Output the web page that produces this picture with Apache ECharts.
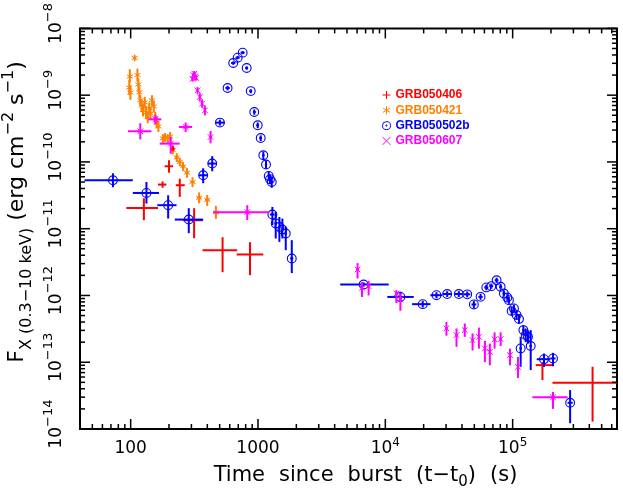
<!DOCTYPE html>
<html><head><meta charset="utf-8">
<script src="https://cdn.jsdelivr.net/npm/echarts@6/dist/echarts.min.js"></script>
<style>html,body{margin:0;padding:0;background:#fff}#c{width:623px;height:493px}</style>
</head><body><div id="c"></div>
<script>
// Each row: [t, tLow, tHigh, flux, fluxLow, fluxHigh]
const names = ['GRB050406', 'GRB050421', 'GRB050502b', 'GRB050607'];
const colors = ['#ff0000', '#ff8000', '#0000ff', '#ff00ff'];

const grb050406 = [
  [127, 92.5, 164, 2.05e-11, 1.34e-11, 2.86e-11],
  [178, 164, 191, 4.58e-11, 4.1e-11, 5.1e-11],
  [200, 185, 215, 8.61e-11, 6.9e-11, 1.06e-10],
  [215, 208, 222, 1.58e-10, 1.45e-10, 1.72e-10],
  [243, 226, 266, 4.48e-11, 3.0e-11, 5.6e-11],
  [315, 257, 369, 1.34e-11, 7.2e-12, 2.03e-11],
  [527, 367, 687, 4.77e-12, 2.23e-12, 7.46e-12],
  [865, 680, 1101, 4.11e-12, 2.01e-12, 6.28e-12],
  [171400, 151700, 205400, 9.06e-14, 5.4e-14, 1.0e-13],
  [424300, 205400, 776000, 4.92e-14, 1.29e-14, 8.55e-14]
];

const grb050421 = [
  [97.5, 96, 99, 1.3e-9, 1.0e-9, 1.7e-9],
  [98.5, 97, 100, 1.9e-9, 1.55e-9, 2.45e-9],
  [99.5, 98, 101, 1.1e-9, 8.5e-10, 1.4e-9],
  [107.5, 106, 109, 3.6e-9, 3.3e-9, 3.95e-9],
  [113, 111, 115, 2.0e-9, 1.6e-9, 2.5e-9],
  [115, 113, 117, 1.45e-9, 1.15e-9, 1.8e-9],
  [117, 115, 119, 1.1e-9, 9.0e-10, 1.35e-9],
  [119, 117, 121, 8.4e-10, 6.8e-10, 1.0e-9],
  [122, 120, 124, 7.0e-10, 5.6e-10, 8.6e-10],
  [125, 123, 127, 6.0e-10, 4.8e-10, 7.4e-10],
  [129, 127, 131, 7.8e-10, 6.4e-10, 9.4e-10],
  [132, 130, 134, 5.5e-10, 4.4e-10, 6.8e-10],
  [136, 134, 138, 4.7e-10, 3.8e-10, 5.8e-10],
  [140, 138, 142, 6.4e-10, 5.2e-10, 7.8e-10],
  [143, 141, 145, 5.3e-10, 4.3e-10, 6.5e-10],
  [147, 145, 149, 8.4e-10, 6.8e-10, 1.0e-9],
  [152, 150, 154, 6.8e-10, 5.5e-10, 8.3e-10],
  [156, 154, 158, 4.5e-10, 3.6e-10, 5.6e-10],
  [160, 158, 162, 3.9e-10, 3.2e-10, 4.8e-10],
  [165, 162, 168, 3.4e-10, 2.8e-10, 4.1e-10],
  [179, 174, 184, 2.26e-10, 1.9e-10, 2.6e-10],
  [186, 182, 190, 2.35e-10, 2.0e-10, 2.7e-10],
  [195, 190, 200, 2.26e-10, 1.9e-10, 2.6e-10],
  [204, 199, 209, 2.4e-10, 2.05e-10, 2.8e-10],
  [214, 208, 220, 1.5e-10, 1.3e-10, 1.75e-10],
  [230, 223, 237, 1.17e-10, 1.0e-10, 1.35e-10],
  [243, 236, 250, 1.0e-10, 8.6e-11, 1.16e-10],
  [258, 250, 266, 8.6e-11, 7.3e-11, 1.0e-10],
  [277, 268, 286, 6.9e-11, 5.8e-11, 8.1e-11],
  [306, 295, 317, 5.0e-11, 4.2e-11, 5.9e-11],
  [345, 332, 358, 2.9e-11, 2.4e-11, 3.5e-11],
  [399, 383, 415, 2.7e-11, 2.2e-11, 3.2e-11],
  [467, 447, 487, 1.75e-11, 1.4e-11, 2.2e-11]
];

const grb050502b = [
  [72.6, 43.4, 104, 5.32e-11, 4.18e-11, 6.76e-11],
  [133, 104, 167, 3.43e-11, 2.38e-11, 5.01e-11],
  [197, 162, 229, 2.25e-11, 1.42e-11, 3.17e-11],
  [286, 222, 371, 1.37e-11, 8.57e-12, 2.03e-11],
  [371, 343, 404, 6.31e-11, 4.8e-11, 8.04e-11],
  [437, 404, 467, 9.45e-11, 7.25e-11, 1.22e-10],
  [502, 467, 550, 3.88e-10, 3.5e-10, 4.3e-10],
  [577, 555, 600, 1.28e-9, 1.18e-9, 1.38e-9],
  [639, 615, 664, 3.03e-9, 2.85e-9, 3.2e-9],
  [692, 666, 718, 3.64e-9, 3.45e-9, 3.85e-9],
  [758, 730, 786, 4.33e-9, 4.1e-9, 4.55e-9],
  [815, 795, 836, 2.55e-9, 2.4e-9, 2.7e-9],
  [877, 855, 900, 1.15e-9, 1.07e-9, 1.23e-9],
  [935, 912, 958, 5.6e-10, 5.1e-10, 6.1e-10],
  [995, 970, 1020, 3.54e-10, 3.2e-10, 3.9e-10],
  [1050, 1025, 1075, 2.28e-10, 2.05e-10, 2.5e-10],
  [1101, 1080, 1122, 1.26e-10, 1.1e-10, 1.43e-10],
  [1156, 1135, 1177, 9.13e-11, 7.9e-11, 1.05e-10],
  [1214, 1195, 1233, 6.17e-11, 5.3e-11, 7.1e-11],
  [1243, 1225, 1261, 5.51e-11, 4.7e-11, 6.4e-11],
  [1282, 1265, 1299, 5.01e-11, 4.1e-11, 6.1e-11],
  [1297, 1240, 1350, 1.63e-11, 1.13e-11, 2.12e-11],
  [1378, 1345, 1410, 1.2e-11, 7.13e-12, 1.78e-11],
  [1472, 1440, 1505, 1.06e-11, 6.34e-12, 1.5e-11],
  [1554, 1520, 1590, 9.72e-12, 7.13e-12, 1.42e-11],
  [1652, 1615, 1690, 8.48e-12, 4.77e-12, 1.06e-11],
  [1842, 1790, 1895, 3.58e-12, 2.16e-12, 6.73e-12],
  [6750, 4425, 10620, 1.46e-12, 1.35e-12, 1.57e-12],
  [13130, 10370, 16710, 9.5e-13, 8.0e-13, 1.14e-12],
  [19670, 16220, 22600, 7.41e-13, 6.6e-13, 8.3e-13],
  [25220, 22600, 27900, 1.01e-12, 9.1e-13, 1.12e-12],
  [30600, 28300, 33000, 1.05e-12, 9.5e-13, 1.16e-12],
  [37760, 35200, 40500, 1.05e-12, 9.5e-13, 1.16e-12],
  [43980, 41500, 46500, 1.04e-12, 9.4e-13, 1.15e-12],
  [49590, 47500, 51800, 7.34e-13, 6.5e-13, 8.3e-13],
  [55980, 53800, 58200, 9.53e-13, 8.6e-13, 1.06e-12],
  [62080, 59800, 64400, 1.32e-12, 1.2e-12, 1.45e-12],
  [67970, 65600, 70400, 1.38e-12, 1.26e-12, 1.51e-12],
  [74820, 72300, 77400, 1.69e-12, 1.54e-12, 1.85e-12],
  [80480, 78200, 82800, 1.35e-12, 1.22e-12, 1.49e-12],
  [85350, 83300, 87400, 1.07e-12, 9.6e-13, 1.19e-12],
  [90800, 88800, 92800, 9.33e-13, 8.3e-13, 1.05e-12],
  [93500, 91800, 95200, 8.51e-13, 7.5e-13, 9.6e-13],
  [98200, 96500, 99900, 5.83e-13, 5.1e-13, 6.7e-13],
  [102400, 100700, 104100, 6.40e-13, 5.6e-13, 7.3e-13],
  [107400, 105600, 109200, 5.08e-13, 4.4e-13, 5.9e-13],
  [112100, 110200, 114000, 4.43e-13, 3.8e-13, 5.2e-13],
  [115600, 113700, 117500, 1.61e-13, 8.55e-14, 2.40e-13],
  [121400, 119400, 123400, 3.03e-13, 2.5e-13, 3.6e-13],
  [126600, 124500, 128700, 2.55e-13, 2.0e-13, 3.2e-13],
  [131900, 129700, 134100, 2.40e-13, 1.9e-13, 3.0e-13],
  [138600, 136300, 140900, 1.75e-13, 7.63e-14, 3.03e-13],
  [176300, 154600, 197600, 1.11e-13, 8.5e-14, 1.35e-13],
  [207500, 197600, 217000, 1.14e-13, 8.7e-14, 1.38e-13],
  [282700, 270000, 296000, 2.47e-14, 1.22e-14, 3.83e-14]
];

const grb050607 = [
  [119, 95.2, 145.5, 2.88e-10, 2.18e-10, 3.79e-10],
  [156.5, 138, 174, 4.35e-10, 3.7e-10, 5.1e-10],
  [206.5, 169, 243, 1.88e-10, 1.33e-10, 2.36e-10],
  [270, 239, 304, 3.34e-10, 2.8e-10, 3.9e-10],
  [306, 300, 312, 1.75e-9, 1.6e-9, 1.9e-9],
  [311, 305, 317, 2.0e-9, 1.85e-9, 2.15e-9],
  [316, 310, 322, 2.1e-9, 1.95e-9, 2.3e-9],
  [321, 315, 327, 1.9e-9, 1.75e-9, 2.05e-9],
  [326, 320, 332, 1.8e-9, 1.65e-9, 1.95e-9],
  [335, 329, 341, 1.18e-9, 1.05e-9, 1.32e-9],
  [349, 343, 355, 9.38e-10, 8.2e-10, 1.07e-9],
  [364, 357, 371, 7.47e-10, 6.5e-10, 8.6e-10],
  [383, 375, 391, 5.93e-10, 5.0e-10, 7.0e-10],
  [424, 413, 435, 2.36e-10, 1.9e-10, 2.9e-10],
  [824, 445, 1227, 1.77e-11, 1.35e-11, 2.25e-11],
  [6050, 5900, 6200, 2.45e-12, 1.8e-12, 3.05e-12],
  [6560, 6400, 6720, 1.30e-12, 9.5e-13, 1.59e-12],
  [7390, 7200, 7580, 1.38e-12, 1.0e-12, 1.66e-12],
  [12210, 11900, 12500, 1.07e-12, 7.7e-13, 1.2e-12],
  [13130, 12800, 13450, 8.71e-13, 5.9e-13, 1.07e-12],
  [30200, 29500, 30900, 3.21e-13, 2.5e-13, 4.0e-13],
  [36230, 35400, 37000, 2.55e-13, 1.7e-13, 3.2e-13],
  [42100, 41200, 43000, 3.03e-13, 2.4e-13, 3.8e-13],
  [48430, 47400, 49500, 2.14e-13, 1.5e-13, 2.7e-13],
  [54330, 53200, 55500, 2.40e-13, 1.6e-13, 3.3e-13],
  [60550, 59300, 61800, 1.61e-13, 1.0e-13, 2.1e-13],
  [66230, 64900, 67600, 1.43e-13, 9.0e-14, 1.9e-13],
  [72150, 70700, 73600, 2.20e-13, 1.6e-13, 2.8e-13],
  [80480, 78800, 82200, 2.22e-13, 1.75e-13, 2.8e-13],
  [95290, 93300, 97300, 1.28e-13, 9.0e-14, 1.6e-13],
  [110100, 107800, 112400, 8.55e-14, 5.8e-14, 1.2e-13],
  [207500, 142900, 270000, 2.98e-14, 2.0e-14, 3.6e-14]
];

const xRange = [40, 6.6e5];
const yRange = [1e-14, 1e-8];
const xMajorTicks = [100, 1000, 1e4, 1e5];
const xMinorTicks = [50, 60, 70, 80, 90, 200, 300, 400, 500, 600, 700, 800, 900,
  2000, 3000, 4000, 5000, 6000, 7000, 8000, 9000,
  2e4, 3e4, 4e4, 5e4, 6e4, 7e4, 8e4, 9e4, 2e5, 3e5, 4e5, 5e5, 6e5];
const yMajorTicks = [1e-14, 1e-13, 1e-12, 1e-11, 1e-10, 1e-9, 1e-8];
const yMinorTicks = [];
[1e-14, 1e-13, 1e-12, 1e-11, 1e-10, 1e-9].forEach(function (d) {
  [2, 3, 4, 5, 6, 7, 8, 9].forEach(function (m) { yMinorTicks.push(m * d); });
});

const FONT = 'DejaVu Sans';

function powInfo(v) {
  const l = Math.log10(v);
  const e = Math.round(l);
  return { ok: Math.abs(l - e) < 1e-6, e: e };
}

function errRender(color, sym) {
  return function (params, api) {
    const cs = params.coordSys;
    const x0 = cs.x, x1 = cs.x + cs.width, y0 = cs.y, y1 = cs.y + cs.height;
    const cx = function (v) { return Math.max(x0, Math.min(x1, v)); };
    const cy = function (v) { return Math.max(y0, Math.min(y1, v)); };
    const t = api.value(0), tl = api.value(1), th = api.value(2);
    const f = api.value(3), fl = api.value(4), fh = api.value(5);
    const p = api.coord([t, f]);
    const xl = cx(api.coord([tl, f])[0]), xr = cx(api.coord([th, f])[0]);
    const yt = cy(api.coord([t, fh])[1]), yb = cy(api.coord([t, fl])[1]);
    const ls = { stroke: color, lineWidth: 2 };
    const ch = [
      { type: 'line', shape: { x1: xl, y1: p[1], x2: xr, y2: p[1] }, style: ls },
      { type: 'line', shape: { x1: p[0], y1: yt, x2: p[0], y2: yb }, style: ls }
    ];
    const thin = { stroke: color, lineWidth: 1 };
    if (sym === 'circle') {
      ch.push({ type: 'circle', shape: { cx: p[0], cy: p[1], r: 4.4 }, style: { stroke: color, fill: 'none', lineWidth: 1.1 } });
      ch.push({ type: 'circle', shape: { cx: p[0], cy: p[1], r: 1.2 }, style: { fill: color } });
    } else if (sym === 'star') {
      const r = 3.5;
      for (let k = 0; k < 3; k++) {
        const a = Math.PI / 2 + k * Math.PI / 3;
        ch.push({ type: 'line', shape: { x1: p[0] - r * Math.cos(a), y1: p[1] - r * Math.sin(a), x2: p[0] + r * Math.cos(a), y2: p[1] + r * Math.sin(a) }, style: thin });
      }
    } else if (sym === 'cross') {
      const r = 2.8;
      ch.push({ type: 'line', shape: { x1: p[0] - r, y1: p[1] - r, x2: p[0] + r, y2: p[1] + r }, style: thin });
      ch.push({ type: 'line', shape: { x1: p[0] - r, y1: p[1] + r, x2: p[0] + r, y2: p[1] - r }, style: thin });
    }
    return { type: 'group', children: ch };
  };
}

function tickRender(dir) {
  return function (params, api) {
    const cs = params.coordSys;
    const major = api.value(2);
    const len = major ? 10 : 5;
    const st = { stroke: '#000', lineWidth: 1.5 };
    if (dir === 'x') {
      const x = api.coord([api.value(0), yRange[0]])[0];
      const yb = cs.y + cs.height, yt = cs.y;
      return { type: 'group', children: [
        { type: 'line', shape: { x1: x, y1: yb, x2: x, y2: yb - len }, style: st },
        { type: 'line', shape: { x1: x, y1: yt, x2: x, y2: yt + len }, style: st }
      ] };
    } else {
      const y = api.coord([xRange[0], api.value(1)])[1];
      const xl = cs.x, xr = cs.x + cs.width;
      return { type: 'group', children: [
        { type: 'line', shape: { x1: xl, y1: y, x2: xl + len, y2: y }, style: st },
        { type: 'line', shape: { x1: xr, y1: y, x2: xr - len, y2: y }, style: st }
      ] };
    }
  };
}

const xTickData = xMajorTicks.map(function (v) { return [v, yRange[0], 1]; })
  .concat(xMinorTicks.map(function (v) { return [v, yRange[0], 0]; }));
const yTickData = yMajorTicks.map(function (v) { return [xRange[0], v, 1]; })
  .concat(yMinorTicks.map(function (v) { return [xRange[0], v, 0]; }));

const icons = [
  'path://M0,5L10,5M5,0L5,10',
  'path://M5,0L5,10M0.67,2.5L9.33,7.5M0.67,7.5L9.33,2.5',
  'path://M5,0.5A4.5,4.5,0,1,1,4.99,0.5ZM5,4.3A0.7,0.7,0,1,1,4.99,4.3Z',
  'path://M1,1L9,9M1,9L9,1'
];

const chart = echarts.init(document.getElementById('c'), null, { renderer: 'canvas' });
chart.setOption({
  animation: false,
  backgroundColor: '#fff',
  grid: { left: 80, top: 28, right: 6, bottom: 64, show: true, borderColor: '#000', borderWidth: 2, backgroundColor: 'transparent' },
  xAxis: {
    type: 'log', logBase: 10, min: xRange[0], max: xRange[1],
    axisLine: { show: false }, axisTick: { show: false }, splitLine: { show: false }, minorTick: { show: false },
    axisLabel: {
      margin: 8, color: '#000', fontFamily: FONT, fontSize: 17,
      formatter: function (v) {
        const pi = powInfo(v);
        if (!pi.ok) return '';
        if (pi.e <= 3) return '{b|' + Math.round(v) + '}';
        return '{b|10}{s|' + pi.e + '}';
      },
      rich: {
        b: { fontFamily: FONT, fontSize: 17, color: '#000', lineHeight: 24 },
        s: { fontFamily: FONT, fontSize: 12, color: '#000', verticalAlign: 'top', lineHeight: 11 }
      }
    }
  },
  yAxis: {
    type: 'log', logBase: 10, min: yRange[0], max: yRange[1],
    axisLine: { show: false }, axisTick: { show: false }, splitLine: { show: false }, minorTick: { show: false },
    axisLabel: {
      rotate: 90, margin: 8, color: '#000', fontFamily: FONT, fontSize: 17,
      padding: [0, 0, 0, 10],
      formatter: function (v) {
        const pi = powInfo(v);
        if (!pi.ok) return '';
        return '{b|10}{s|\u2212' + (-pi.e) + '}';
      },
      rich: {
        b: { fontFamily: FONT, fontSize: 17, color: '#000', lineHeight: 30 },
        s: { fontFamily: FONT, fontSize: 13, color: '#000', verticalAlign: 'top', lineHeight: 14 }
      }
    }
  },
  legend: {
    orient: 'vertical', left: 377, top: 84, itemWidth: 8, itemHeight: 8, itemGap: 3.3,
    selectedMode: false,
    textStyle: { fontFamily: 'Liberation Sans', fontWeight: 'bold', fontSize: 12, lineHeight: 12 },
    data: names.map(function (n, i) {
      return { name: n, icon: icons[i], itemStyle: { color: 'rgba(0,0,0,0)', borderColor: colors[i], borderWidth: 1 }, textStyle: { color: colors[i] } };
    })
  },
  graphic: [
    {
      type: 'text', x: 17.5, y: 212, rotation: Math.PI / 2, silent: true,
      style: {
        text: '{m|F}{sub|X (0.3\u221210 keV)}{m| (erg cm}{sup|\u22122}{m| s}{sup|\u22121}{m|)}',
        align: 'center', verticalAlign: 'middle',
        rich: {
          m: { fontFamily: FONT, fontSize: 22, fill: '#000', lineHeight: 34 },
          sub: { fontFamily: FONT, fontSize: 16, fill: '#000', verticalAlign: 'bottom', lineHeight: 20 },
          sup: { fontFamily: FONT, fontSize: 16, fill: '#000', verticalAlign: 'top', lineHeight: 18 }
        }
      }
    },
    {
      type: 'text', x: 365.5, y: 475.5, silent: true,
      style: {
        text: '{w|Time}{g| }{w|since}{g| }{w|burst}{g| }{w|(t\u2212t}{sub|0}{w|)}{g| }{w|(s)}',
        align: 'center', verticalAlign: 'middle',
        rich: {
          w: { fontFamily: FONT, fontSize: 21, fill: '#000', lineHeight: 28 },
          g: { fontFamily: FONT, fontSize: 21, width: 14, lineHeight: 28 },
          sub: { fontFamily: FONT, fontSize: 15, fill: '#000', verticalAlign: 'bottom', lineHeight: 18 }
        }
      }
    }
  ],
  series: [
    { type: 'custom', name: 'xticks', data: xTickData, encode: { x: 0, y: 1 }, renderItem: tickRender('x'), silent: true, z: 10 },
    { type: 'custom', name: 'yticks', data: yTickData, encode: { x: 0, y: 1 }, renderItem: tickRender('y'), silent: true, z: 10 },
    { type: 'custom', name: names[1], data: grb050421, encode: { x: [0, 1, 2], y: [3, 4, 5] }, renderItem: errRender(colors[1], 'star'), itemStyle: { color: colors[1] }, z: 3 },
    { type: 'custom', name: names[0], data: grb050406, encode: { x: [0, 1, 2], y: [3, 4, 5] }, renderItem: errRender(colors[0], 'plus'), itemStyle: { color: colors[0] }, z: 4 },
    { type: 'custom', name: names[2], data: grb050502b, encode: { x: [0, 1, 2], y: [3, 4, 5] }, renderItem: errRender(colors[2], 'circle'), itemStyle: { color: colors[2] }, z: 5 },
    { type: 'custom', name: names[3], data: grb050607, encode: { x: [0, 1, 2], y: [3, 4, 5] }, renderItem: errRender(colors[3], 'cross'), itemStyle: { color: colors[3] }, z: 6 }
  ]
});
</script></body></html>
